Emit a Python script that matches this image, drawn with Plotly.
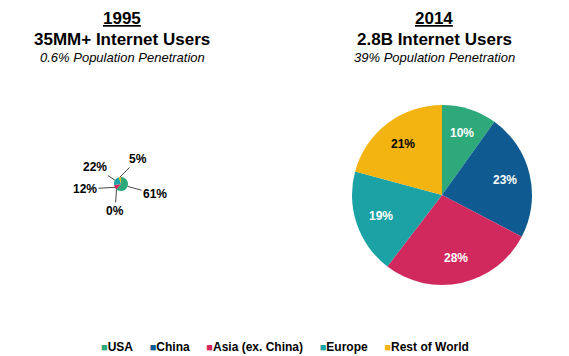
import math
import plotly.graph_objects as go

regions = ["USA", "China", "Asia (ex. China)", "Europe", "Rest of World"]
colors = ["#2EAA7A", "#0E5A91", "#D1285E", "#1AA2A5", "#F3B311"]
share_1995 = [61, 0, 12, 22, 5]
share_2014 = [10, 23, 28, 19, 21]
text_colors_2014 = ["white", "white", "white", "white", "black"]

titles = [
    ("1995", "35MM+ Internet Users", "0.6% Population Penetration"),
    ("2014", "2.8B Internet Users", "39% Population Penetration"),
]

W, H = 569, 356
FONT = "Liberation Sans, Arial, Helvetica, sans-serif"

# pie geometry (pixels)
left_c = (121, 184)
left_r = 7
right_c = (442, 195)
right_r = 90
# where the outside labels of the tiny 1995 pie sit, relative to its centre (px)
label_pos_1995 = [(34, 10), (-6, 27), (-36, 5), (-26, -17), (17, -25)]


def dom(c, r):
    return dict(x=[(c[0] - r) / W, (c[0] + r) / W],
                y=[(H - c[1] - r) / H, (H - c[1] + r) / H])


def mid_angles(vals):
    total = float(sum(vals))
    out, start = [], 0.0
    for v in vals:
        span = 360.0 * v / total
        out.append(math.radians(start + span / 2))
        start += span
    return out


fig = go.Figure()
fig.add_trace(go.Pie(
    labels=regions, values=share_1995, sort=False, direction="clockwise",
    rotation=0, marker=dict(colors=colors, line=dict(width=0)),
    textinfo="none", hoverinfo="label+value", domain=dom(left_c, left_r),
    showlegend=False,
))
fig.add_trace(go.Pie(
    labels=regions, values=share_2014, sort=False, direction="clockwise",
    rotation=0, marker=dict(colors=colors, line=dict(width=0)),
    textinfo="none", hoverinfo="label+value",
    domain=dom(right_c, right_r), showlegend=False,
))

annotations = []
# titles
for (year, line1, line2), cx in zip(titles, [122, 434]):
    for txt, yy, size in [(f"<b><u>{year}</u></b>", 18, 17),
                          (f"<b>{line1}</b>", 39, 17),
                          (f"<i>{line2}</i>", 57, 13)]:
        annotations.append(dict(text=txt, x=cx / W, y=1 - yy / H, xref="paper", yref="paper",
                                xanchor="center", yanchor="middle", showarrow=False,
                                font=dict(family=FONT, size=size, color="black")))

# 2014 slice labels at ~0.72 of the radius along each slice's mid-angle
for v, ang, tc in zip(share_2014, mid_angles(share_2014), text_colors_2014):
    px = right_c[0] + math.sin(ang) * right_r * 0.72
    py = right_c[1] - math.cos(ang) * right_r * 0.72
    annotations.append(dict(text=f"<b>{v}%</b>", x=px / W, y=1 - py / H, xref="paper",
                            yref="paper", xanchor="center", yanchor="middle",
                            showarrow=False, font=dict(family=FONT, size=12, color=tc)))

# 1995 outside labels with leader lines to each slice's edge
for v, ang, (lx, ly) in zip(share_1995, mid_angles(share_1995), label_pos_1995):
    tx = math.sin(ang) * left_r
    ty = -math.cos(ang) * left_r
    annotations.append(dict(
        text=f"<b>{v}%</b>", x=(left_c[0] + tx) / W, y=1 - (left_c[1] + ty) / H,
        xref="paper", yref="paper", showarrow=True, arrowhead=0, arrowwidth=0.9,
        arrowcolor="#333", standoff=0, ax=lx - tx, ay=ly - ty,
        font=dict(family=FONT, size=12, color="black"),
    ))

# legend row
nb = "\u00a0"
items = [f"<span style='color:{c};font-size:11px'>■</span><b>{r}</b>"
         for r, c in zip(regions, colors)]
annotations.append(dict(text=(nb * 5).join(items), x=285 / W, y=1 - 347 / H,
                        xref="paper", yref="paper", xanchor="center", yanchor="middle",
                        showarrow=False, font=dict(family=FONT, size=12, color="black")))

fig.update_layout(
    width=W, height=H, margin=dict(l=0, r=0, t=0, b=0),
    paper_bgcolor="white", plot_bgcolor="white",
    font=dict(family=FONT, color="black"),
    annotations=annotations, showlegend=False,
)

fig.write_html("out.html", config={"displayModeBar": False},
               post_script="document.body.style.margin='0px';")
